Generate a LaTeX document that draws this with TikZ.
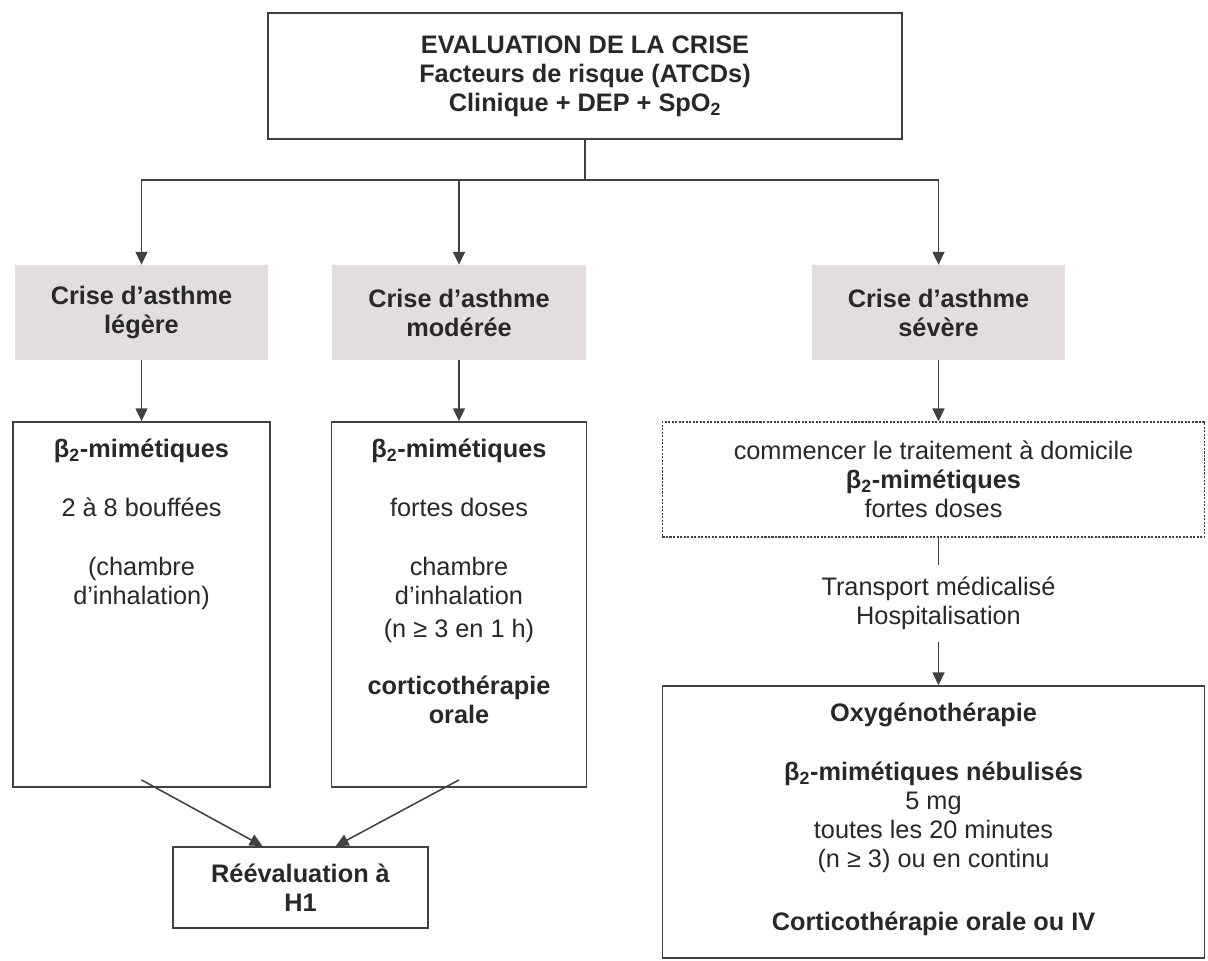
\documentclass[tikz,border=0pt]{standalone}
\usepackage{fontspec}
\setmainfont{Liberation Sans}
\usetikzlibrary{arrows.meta,positioning,calc}
\definecolor{AsthInk}{RGB}{40,40,40}
\definecolor{AsthLine}{RGB}{65,65,65}
\definecolor{AsthGrey}{RGB}{228,221,221}
\newcommand{\asthfont}{\fontsize{18}{20.6}\selectfont}
\newcommand{\bmim}{β\textsubscript{2}-mimétiques}
\tikzset{
  asth/box/.style={
    draw=AsthLine,
    line width=1.1pt,
    fill=white,
    inner sep=0pt,
    align=center,
    text=AsthInk,
    font=\asthfont
  },
  asth/grey/.style={
    fill=AsthGrey,
    draw=none,
    minimum width=6.33cm,
    minimum height=2.38cm,
    align=center,
    text=AsthInk,
    font=\asthfont\bfseries
  },
  asth/dashbox/.style={
    draw=AsthLine,
    line width=0.9pt,
    dash pattern=on 1.5pt off 1pt,
    fill=white,
    inner sep=0pt,
    align=center,
    text=AsthInk,
    font=\asthfont
  },
  asth/txt/.style={align=center, text=AsthInk, font=\asthfont, inner sep=0pt},
  asth/arrow/.style={-{Triangle[length=3.2mm,width=3mm]}, line width=1.1pt, draw=AsthLine},
  asth/line/.style={line width=1.1pt, draw=AsthLine}
}

\begin{document}
\begin{tikzpicture}[x=0.025cm,y=-0.025cm]
  \fill[white] (0,0) rectangle (1208,960);

  % evaluation
  \node[asth/box, minimum width=15.85cm, minimum height=3.15cm, font=\asthfont\bfseries] (eval) at (585,76)
    {EVALUATION DE LA CRISE\\Facteurs de risque (ATCDs)\\Clinique + DEP + SpO\textsubscript{2}};
  \coordinate (split) at (585,180);

  % severity levels
  \node[asth/grey] (leg) at (141.5,312.5) {Crise d'asthme\\légère};
  \node[asth/grey] (mod) at (459,312.5) {Crise d'asthme\\modérée};
  \node[asth/grey] (sev) at (938.5,312.5) {Crise d'asthme\\sévère};

  % treatments
  \node[asth/box, minimum width=6.43cm, minimum height=9.13cm] (legbox) at (141.5,604.5) {};
  \node[asth/txt, anchor=north] (legtxt) at ([yshift=-0.45cm]legbox.north)
    {\textbf{\bmim}\\[0.75cm]2 à 8 bouffées\\[0.75cm](chambre\\d'inhalation)};
  \node[asth/box, minimum width=6.38cm, minimum height=9.13cm] (modbox) at (459,604.5) {};
  \node[asth/txt, anchor=north] (modtxt) at ([yshift=-0.45cm]modbox.north)
    {\textbf{\bmim}\\[0.75cm]fortes doses\\[0.75cm]chambre\\d'inhalation\\[0.1cm](n ≥ 3 en 1 h)\\[0.7cm]\textbf{corticothérapie}\\\textbf{orale}};
  \node[asth/dashbox, minimum width=13.55cm, minimum height=2.88cm] (home) at (933.5,479.5)
    {commencer le traitement à domicile\\\textbf{\bmim}\\fortes doses};
  \node[asth/txt, inner ysep=0.3cm] (transport) at (938.5,603.5) {Transport médicalisé\\Hospitalisation};
  \node[asth/box, minimum width=13.55cm, minimum height=6.8cm] (hosp) at (933.5,822) {};
  \node[asth/txt, anchor=north] (hosptxt) at ([yshift=-0.43cm]hosp.north)
    {\textbf{Oxygénothérapie}\\[0.75cm]\textbf{\bmim{} nébulisés}\\5 mg\\toutes les 20 minutes\\(n ≥ 3) ou en continu\\[0.87cm]\textbf{Corticothérapie orale ou IV}};
  \node[asth/box, minimum width=6.38cm, minimum height=2.03cm, font=\asthfont\bfseries] (reeval) at (300.5,887.5)
    {Réévaluation à\\H1};

  % connectors
  \draw[asth/line] (eval.south) -- (split);
  \foreach \lvl in {leg,mod,sev}
    \draw[asth/arrow] (split) -| (\lvl.north);
  \draw[asth/arrow] (leg.south) -- (legbox.north);
  \draw[asth/arrow] (mod.south) -- (modbox.north);
  \draw[asth/arrow] (sev.south) -- (sev.south |- home.north);
  \draw[asth/line] (home.south -| transport) -- (transport.north);
  \draw[asth/arrow] (transport.south) -- (transport.south |- hosp.north);
  \draw[asth/arrow] ([yshift=0.2cm]legbox.south) -- ([xshift=-0.95cm]reeval.north);
  \draw[asth/arrow] ([yshift=0.2cm]modbox.south) -- ([xshift=0.88cm]reeval.north);
\end{tikzpicture}
\end{document}
